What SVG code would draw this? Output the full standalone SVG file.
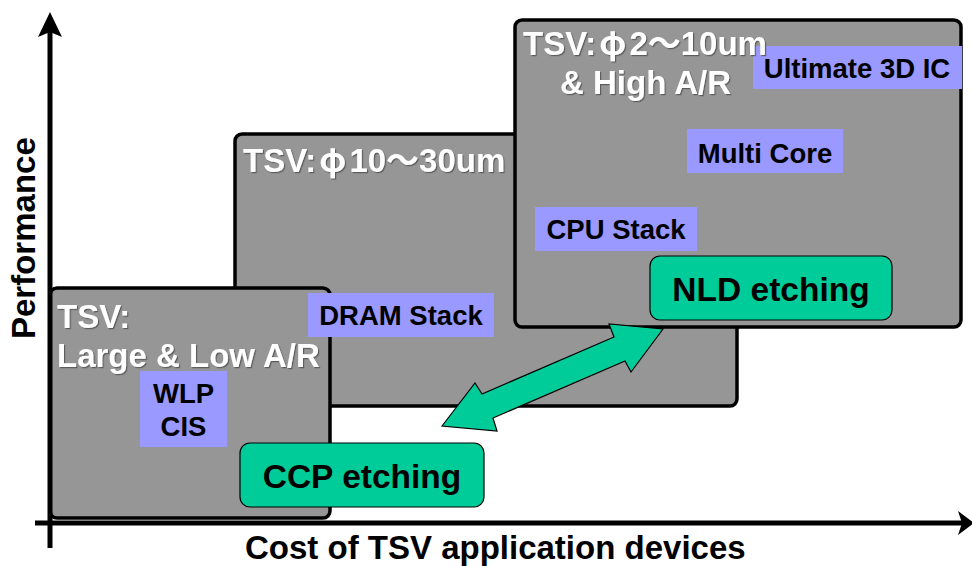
<svg xmlns="http://www.w3.org/2000/svg" width="972" height="566" viewBox="0 0 972 566">
<style>
.box{fill:#969696;stroke:#000;stroke-width:3.5}
.lbl{fill:#9999FF}
.grn{fill:#00CC99;stroke:#000;stroke-width:1.2}
.t{font-family:"Liberation Sans",Arial,sans-serif;font-weight:bold}
.k{font-family:"Noto Sans CJK JP","Liberation Sans",sans-serif;font-weight:bold}
.title{fill:#fff;font-size:33px;filter:url(#sh)}
.lt{fill:#000;font-size:27.5px;text-anchor:middle}
.gt{fill:#000;font-size:33.5px;text-anchor:middle}
.ax{fill:#000;font-size:33px}
</style>
<defs>
<filter id="sh" x="-5%" y="-20%" width="110%" height="140%">
<feDropShadow dx="1.2" dy="1.2" stdDeviation="0.4" flood-color="#555" flood-opacity="0.9"/>
</filter>
</defs>
<g id="box-mid"><rect class="box" x="235" y="134" width="502" height="272" rx="7"/></g>
<g id="box-small"><rect class="box" x="50" y="288" width="280" height="230" rx="7"/></g>
<g id="box-top"><rect class="box" x="515" y="20" width="446" height="307" rx="7"/></g>
<g id="ultimate"><rect class="lbl" x="753" y="46" width="209" height="43"/><text class="t lt" x="857" y="78">Ultimate 3D IC</text></g>
<g id="multicore"><rect class="lbl" x="687" y="129" width="156" height="44"/><text class="t lt" x="765" y="163">Multi Core</text></g>
<g id="cpustack"><rect class="lbl" x="535" y="207" width="162" height="44"/><text class="t lt" x="616" y="239">CPU Stack</text></g>
<g id="dramstack"><rect class="lbl" x="308" y="293" width="186" height="44"/><text class="t lt" x="401" y="325">DRAM Stack</text></g>
<g id="wlpcis"><rect class="lbl" x="140" y="371" width="87" height="76"/><text class="t lt" x="183.5" y="403">WLP</text><text class="t lt" x="183.5" y="436">CIS</text></g>
<g id="nld"><rect class="grn" x="650" y="256" width="242" height="64" rx="10"/><text class="t gt" x="771" y="301">NLD etching</text></g>
<g id="ccp"><rect class="grn" x="240" y="443" width="244" height="64" rx="10"/><text class="t gt" x="362" y="488">CCP etching</text></g>
<g id="titles">
<text class="t title" x="523" y="55">TSV:<tspan class="k" dx="3">φ</tspan><tspan dx="3">2</tspan><tspan class="k">～</tspan>10um</text>
<text class="t title" x="560" y="94">&amp; High A/R</text>
<text class="t title" x="243" y="172">TSV:<tspan class="k" dx="3">φ</tspan><tspan dx="3">10</tspan><tspan class="k">～</tspan>30um</text>
<text class="t title" x="57" y="328">TSV:</text>
<text class="t title" x="57" y="367">Large &amp; Low A/R</text>
</g>
<g id="connectors">
<polygon class="grn" points="442,426 475,383 482,394 614,337 609,324 663,329 631,372 625,361 493,418 497,431"/>
</g>
<g id="axes">
<line x1="50" y1="548" x2="50" y2="30" stroke="#000" stroke-width="5"/>
<polygon points="50,12 62,37 50,32 38,37" fill="#000"/>
<line x1="35" y1="523" x2="962" y2="523" stroke="#000" stroke-width="5"/>
<polygon points="974,523 958,535 962,523 958,511" fill="#000"/>
<text class="t ax" transform="translate(35,339) rotate(-90)">Performance</text>
<text class="t ax" x="245" y="559">Cost of TSV application devices</text>
</g>
</svg>
